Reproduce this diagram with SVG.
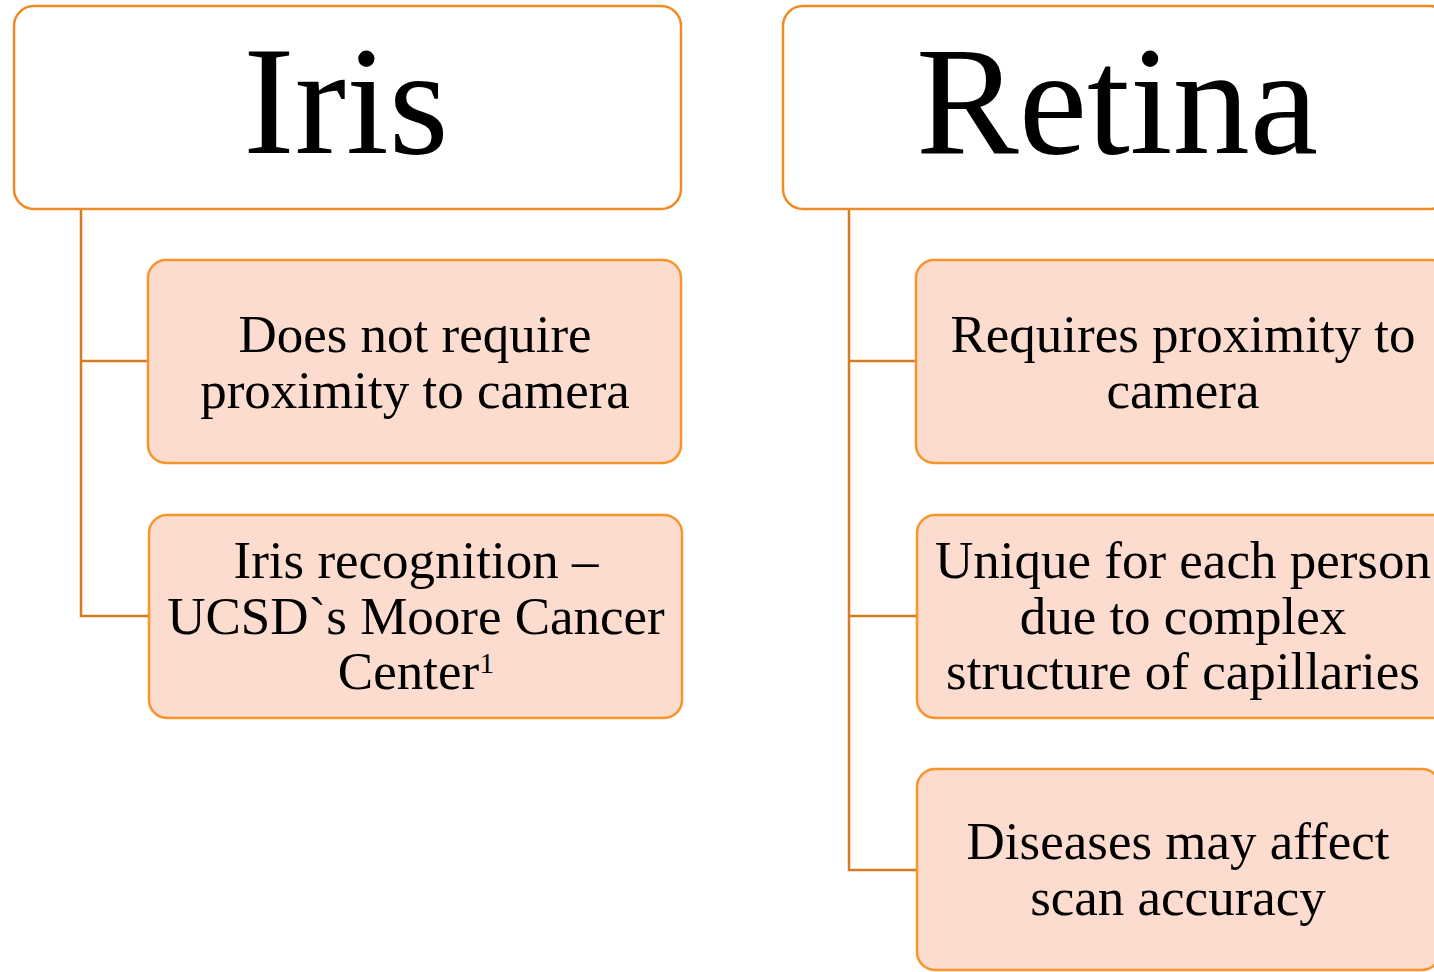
<svg xmlns="http://www.w3.org/2000/svg" width="1434" height="972" viewBox="0 0 1434 972">
<style>
.hdr{fill:#FFFFFF;stroke:#F08A24;stroke-width:2.5}
.box{fill:#FDDCD0;stroke:#F7952A;stroke-width:2.5}
.conn{fill:none;stroke:#D87A20;stroke-width:2.5}
.ht{font-family:"Liberation Serif","Times New Roman",serif;font-size:154px;fill:#000;text-anchor:middle}
.bt{font-family:"Liberation Serif","Times New Roman",serif;font-size:53px;fill:#000;text-anchor:middle}
</style>
<rect width="1434" height="972" fill="#FFFFFF"/>
<g id="connectors">
<path class="conn" d="M81,209 V616 H149 M81,361 H148"/>
<path class="conn" d="M849,209 V870 H917 M849,361 H916 M849,616 H917"/>
</g>
<g id="iris">
<rect class="hdr" x="14" y="6" width="667" height="203" rx="20"/>
<text class="ht" x="346" y="153">Iris</text>
</g>
<g id="retina">
<rect class="hdr" x="783" y="6" width="667" height="203" rx="20"/>
<text class="ht" x="1117" y="153">Retina</text>
</g>
<g id="iris-1">
<rect class="box" x="148" y="260" width="533" height="203" rx="18"/>
<text class="bt" x="415" y="352">Does not require</text>
<text class="bt" x="415" y="408">proximity to camera</text>
</g>
<g id="iris-2">
<rect class="box" x="149" y="515" width="533" height="203" rx="18"/>
<text class="bt" x="416" y="578">Iris recognition –</text>
<text class="bt" x="416" y="634">UCSD`s Moore Cancer</text>
<text class="bt" x="416" y="689">Center<tspan font-size="30" dy="-16">1</tspan></text>
</g>
<g id="retina-1">
<rect class="box" x="916" y="260" width="533" height="203" rx="18"/>
<text class="bt" x="1183" y="352">Requires proximity to</text>
<text class="bt" x="1183" y="408">camera</text>
</g>
<g id="retina-2">
<rect class="box" x="917" y="515" width="533" height="203" rx="18"/>
<text class="bt" x="1183" y="578">Unique for each person</text>
<text class="bt" x="1183" y="634">due to complex</text>
<text class="bt" x="1183" y="689">structure of capillaries</text>
</g>
<g id="retina-3">
<rect class="box" x="917" y="769" width="523" height="201" rx="18"/>
<text class="bt" x="1178" y="859">Diseases may affect</text>
<text class="bt" x="1178" y="915">scan accuracy</text>
</g>
</svg>
